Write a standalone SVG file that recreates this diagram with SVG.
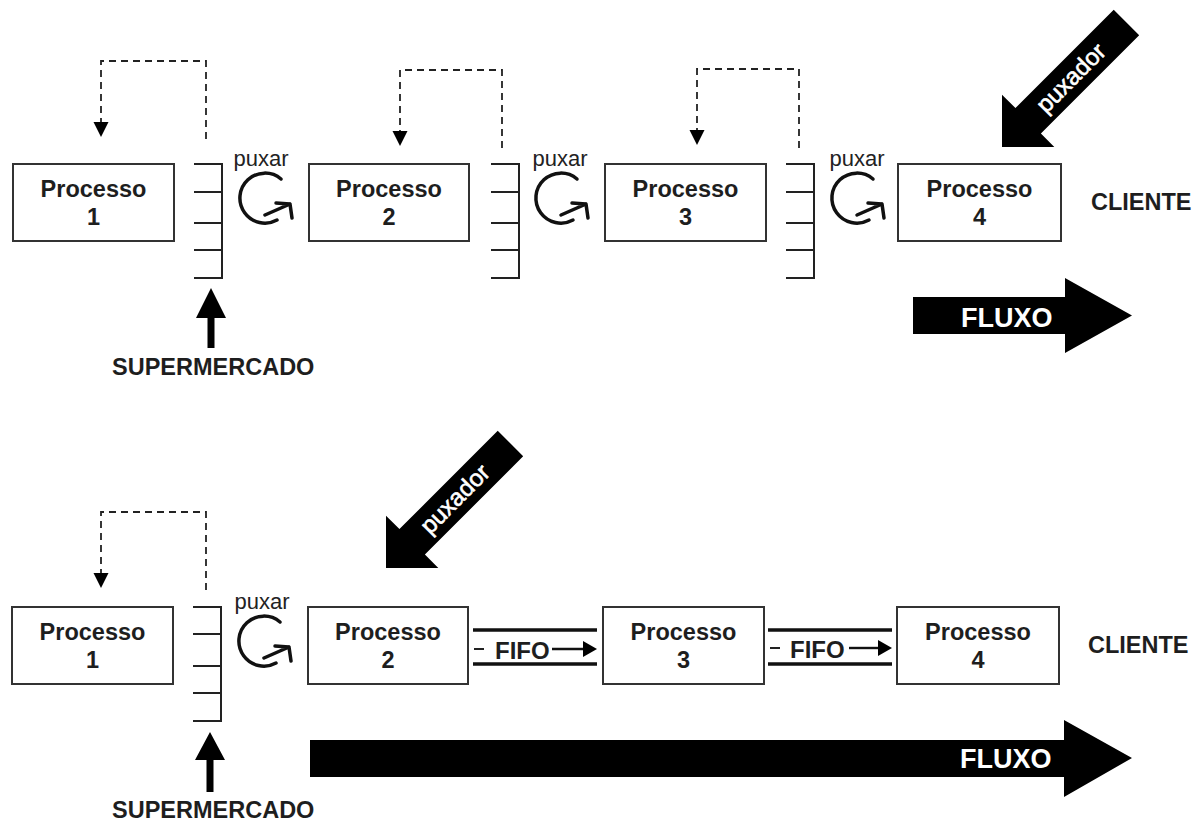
<svg xmlns="http://www.w3.org/2000/svg" xmlns:xlink="http://www.w3.org/1999/xlink" width="1203" height="823" viewBox="0 0 1203 823">
<style>
.box{fill:#fff;stroke:#333;stroke-width:2}
.pt{font-family:"Liberation Sans",Arial,sans-serif;font-weight:bold;font-size:23.5px;fill:#1e1e1e;text-anchor:middle}
.lbl{font-family:"Liberation Sans",Arial,sans-serif;font-weight:bold;font-size:23.5px;fill:#1e1e1e}
.px{font-family:"Liberation Sans",Arial,sans-serif;font-size:22px;fill:#222;text-anchor:middle}
.pxd{font-family:"Liberation Sans",Arial,sans-serif;font-size:24px;fill:#fff;stroke:#fff;stroke-width:0.6;text-anchor:middle}
.flx{font-family:"Liberation Sans",Arial,sans-serif;font-weight:bold;font-size:27px;fill:#fff}
.fifo{font-family:"Liberation Sans",Arial,sans-serif;font-weight:bold;font-size:24px;fill:#1e1e1e}
.sm{fill:none;stroke:#222;stroke-width:2}
.dash{fill:none;stroke:#222;stroke-width:1.8;stroke-dasharray:7 5}
.pull{fill:none;stroke:#111;stroke-width:3.5;stroke-linecap:round;stroke-linejoin:round}
.fl{stroke:#111;stroke-width:3.5}
.blk{fill:#000}
</style>
<defs>
<g id="pullicon">
<path class="pull" d="M16,-19 A25,25 0 1 0 12,22 M0,17 L25,6 M11,5 L25,6 L27,20"/>
</g>
<polygon id="bigarrow" points="0,0 -37,-37 -37,-18 -176,-18 -176,18 -37,18 -37,37"/>
<polygon id="dhead" points="-7.5,-15 7.5,-15 0,0"/>
</defs>

<!-- connectors -->
<g id="connectors">
<!-- top row kanban feedback -->
<path class="dash" d="M206,139 V61 H101 V123"/>
<use xlink:href="#dhead" x="101" y="137" class="blk"/>
<path class="dash" d="M502,148 V70 H400 V132"/>
<use xlink:href="#dhead" x="400" y="146" class="blk"/>
<path class="dash" d="M799,148 V69 H697 V131"/>
<use xlink:href="#dhead" x="697" y="145" class="blk"/>
<!-- bottom row kanban feedback -->
<path class="dash" d="M206,590 V512 H101 V574"/>
<use xlink:href="#dhead" x="101" y="588" class="blk"/>
<!-- pull icons -->
<use xlink:href="#pullicon" x="265" y="198"/>
<use xlink:href="#pullicon" x="561" y="198"/>
<use xlink:href="#pullicon" x="857" y="198"/>
<use xlink:href="#pullicon" x="264" y="641"/>
<!-- FIFO lanes -->
<g id="fifo1">
<line class="fl" x1="473" y1="630" x2="597" y2="630"/>
<line class="fl" x1="473" y1="664" x2="597" y2="664"/>
<line x1="474" y1="649" x2="484" y2="649" stroke="#222" stroke-width="2"/>
<line x1="552" y1="649" x2="586" y2="649" stroke="#111" stroke-width="2.4"/>
<polygon class="blk" points="583,641 597,649 583,657"/>
</g>
<g id="fifo2">
<line class="fl" x1="768" y1="630" x2="892" y2="630"/>
<line class="fl" x1="768" y1="664" x2="892" y2="664"/>
<line x1="770" y1="648" x2="780" y2="648" stroke="#222" stroke-width="2"/>
<line x1="849" y1="648" x2="881" y2="648" stroke="#111" stroke-width="2.4"/>
<polygon class="blk" points="878,640 892,648 878,656"/>
</g>
</g>

<!-- top row -->
<g id="t-p1"><rect class="box" x="13" y="164" width="161" height="77"/><text class="pt" x="93.5" y="197">Processo</text><text class="pt" x="93.5" y="225">1</text></g>
<g id="t-p2"><rect class="box" x="309" y="164" width="160" height="77"/><text class="pt" x="389" y="197">Processo</text><text class="pt" x="389" y="225">2</text></g>
<g id="t-p3"><rect class="box" x="605" y="164" width="161" height="77"/><text class="pt" x="685.5" y="197">Processo</text><text class="pt" x="685.5" y="225">3</text></g>
<g id="t-p4"><rect class="box" x="898" y="164" width="163" height="77"/><text class="pt" x="979.5" y="197">Processo</text><text class="pt" x="979.5" y="225">4</text></g>
<g id="t-sm1"><path class="sm" d="M194,164 H222 V278 H194 M194,192 H222 M194,223 H222 M194,250 H222"/></g>
<g id="t-sm2"><path class="sm" d="M491,164 H519 V278 H491 M491,192 H519 M491,223 H519 M491,250 H519"/></g>
<g id="t-sm3"><path class="sm" d="M786,164 H814 V278 H786 M786,192 H814 M786,223 H814 M786,250 H814"/></g>
<g id="t-pux"><text class="px" x="261" y="166">puxar</text><text class="px" x="560" y="166">puxar</text><text class="px" x="857" y="166">puxar</text></g>
<g id="t-super"><polygon class="blk" points="211,288 226,318 214.5,318 214.5,348 207.5,348 207.5,318 196,318"/><text class="lbl" x="112" y="375">SUPERMERCADO</text></g>
<g id="t-cliente"><text class="lbl" x="1091" y="210">CLIENTE</text></g>
<g id="t-puxador"><use xlink:href="#bigarrow" class="blk" transform="translate(1002,147) rotate(135)"/><text class="pxd" transform="translate(1071,78) rotate(-45)" x="0" y="8">puxador</text></g>
<g id="t-fluxo"><polygon class="blk" points="913,297 1065,297 1065,278 1132,315.5 1065,353 1065,334 913,334"/><text class="flx" x="961" y="327">FLUXO</text></g>

<!-- bottom row -->
<g id="b-p1"><rect class="box" x="12" y="607" width="161" height="77"/><text class="pt" x="92.5" y="640">Processo</text><text class="pt" x="92.5" y="668">1</text></g>
<g id="b-p2"><rect class="box" x="308" y="607" width="160" height="77"/><text class="pt" x="388" y="640">Processo</text><text class="pt" x="388" y="668">2</text></g>
<g id="b-p3"><rect class="box" x="603" y="607" width="161" height="77"/><text class="pt" x="683.5" y="640">Processo</text><text class="pt" x="683.5" y="668">3</text></g>
<g id="b-p4"><rect class="box" x="897" y="607" width="162" height="77"/><text class="pt" x="978" y="640">Processo</text><text class="pt" x="978" y="668">4</text></g>
<g id="b-sm1"><path class="sm" d="M193,607 H221 V721 H193 M193,634 H221 M193,666 H221 M193,693 H221"/></g>
<g id="b-pux"><text class="px" x="262" y="609">puxar</text></g>
<g id="b-fifo-labels"><text class="fifo" x="495" y="659">FIFO</text><text class="fifo" x="790" y="658">FIFO</text></g>
<g id="b-super"><polygon class="blk" points="210,732 225,760 213.5,760 213.5,792 206.5,792 206.5,760 195,760"/><text class="lbl" x="112" y="818">SUPERMERCADO</text></g>
<g id="b-cliente"><text class="lbl" x="1088" y="653">CLIENTE</text></g>
<g id="b-puxador"><use xlink:href="#bigarrow" class="blk" transform="translate(386,568) rotate(135)"/><text class="pxd" transform="translate(455,499) rotate(-45)" x="0" y="8">puxador</text></g>
<g id="b-fluxo"><polygon class="blk" points="310,740 1064,740 1064,720 1132,758 1064,797 1064,777 310,777"/><text class="flx" x="960" y="768">FLUXO</text></g>
</svg>
